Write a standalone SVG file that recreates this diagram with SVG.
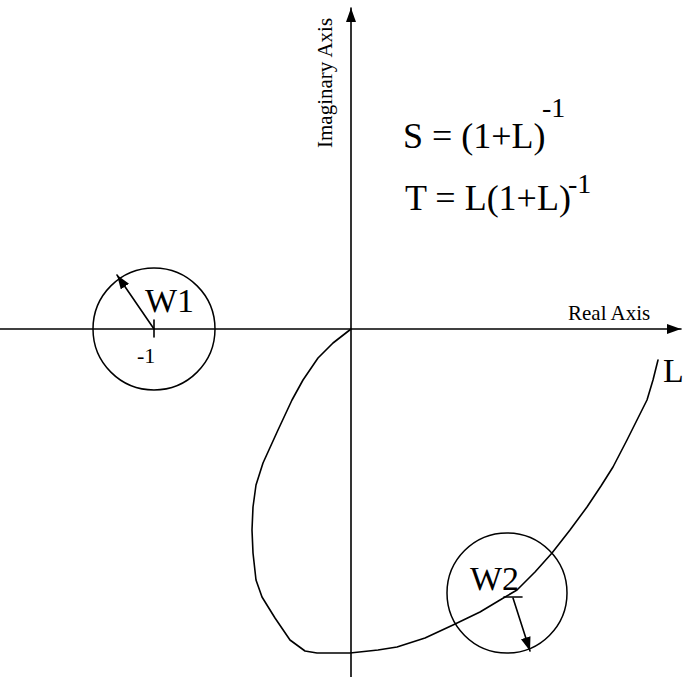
<svg xmlns="http://www.w3.org/2000/svg" width="683" height="677" viewBox="0 0 683 677">
<style>
.ln{fill:none;stroke:#000;stroke-width:1.6;stroke-linejoin:round;stroke-linecap:round}
.c{fill:none;stroke:#000;stroke-width:1.5}
text{font-family:'Liberation Serif','DejaVu Serif','Times New Roman',serif;fill:#000}
</style>
<defs>
<marker id="ah" viewBox="0 0 14 10" refX="14" refY="5" markerWidth="14" markerHeight="10" markerUnits="userSpaceOnUse" orient="auto">
<path d="M0,0 L14,5 L0,10 Z" fill="#000"/>
</marker>
</defs>
<rect width="683" height="677" fill="#fff"/>
<g id="connectors">
<line id="real-axis" class="ln" x1="0" y1="329" x2="681" y2="329" marker-end="url(#ah)"/>
<line id="imag-axis" class="ln" x1="351" y1="677" x2="351" y2="8" marker-end="url(#ah)"/>
<polyline id="L-curve" class="ln" points="351,329 333,343 318,358 303,380 292,400 278,430 263,463 256,485 253,507 252,530 253,553 256,580 262,597 275,618 290,640 305,651 317,653 350,653 378,650 397,647 425,638 453,625 480,612 500,600 517,590 535,572 552,553 570,530 587,507 601,486 613,467 627,440 637,420 647,400 653,380 658,360"/>
<line id="w1-radius" class="ln" x1="154" y1="329" x2="117" y2="275" marker-end="url(#ah)"/>
<line id="w2-radius" class="ln" x1="513" y1="598" x2="530" y2="651" marker-end="url(#ah)"/>
</g>
<g id="W1">
<circle class="c" cx="154" cy="329" r="61"/>
<line class="ln" x1="154" y1="320" x2="154" y2="337"/>
<text x="145" y="312" font-size="34" font-family="Liberation Serif, serif">W1</text>
<text x="137" y="363" font-size="22" font-family="Liberation Serif, serif">-1</text>
</g>
<g id="W2">
<circle class="c" cx="507" cy="593" r="60"/>
<line class="ln" x1="504" y1="597" x2="522" y2="597"/>
<text x="470" y="590" font-size="34" font-family="Liberation Serif, serif">W2</text>
</g>
<g id="labels">
<text x="0" y="0" font-size="21" font-family="Liberation Serif, serif" transform="translate(332,148) rotate(-90)">Imaginary Axis</text>
<text x="568" y="320" font-size="21" font-family="Liberation Serif, serif">Real Axis</text>
<text x="663" y="382" font-size="34" font-family="Liberation Serif, serif">L</text>
<text x="403" y="148" font-size="36" font-family="Liberation Serif, serif">S = (1+L)</text>
<text x="542" y="117" font-size="28" font-family="Liberation Serif, serif">-1</text>
<text x="405" y="210" font-size="36" font-family="Liberation Serif, serif">T = L(1+L)</text>
<text x="568" y="193" font-size="28" font-family="Liberation Serif, serif">-1</text>
</g>
</svg>
